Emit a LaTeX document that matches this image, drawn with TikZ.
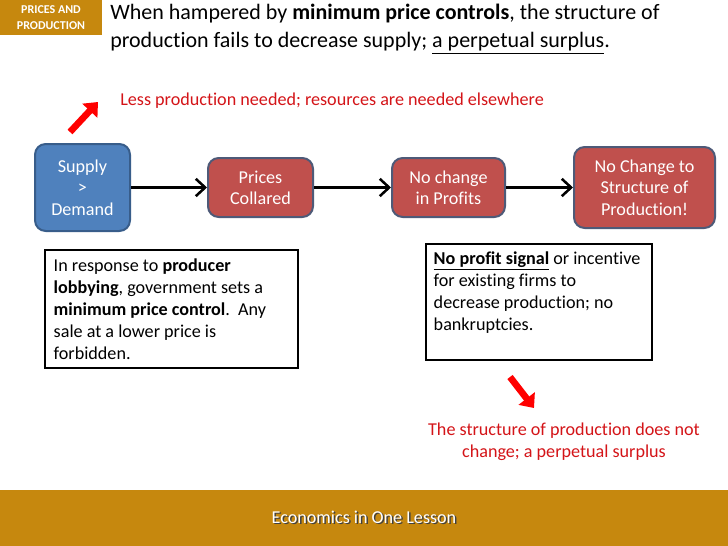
\documentclass[tikz,border=0pt]{standalone}
\usepackage{fontspec}
\setmainfont{Carlito}[Ligatures=NoCommon]
\usetikzlibrary{arrows.meta, positioning, calc}
\definecolor{lessongold}{HTML}{C6880E}
\definecolor{flowblue}{HTML}{4F81BD}
\definecolor{flowblueline}{HTML}{385D8A}
\definecolor{flowred}{HTML}{C0504D}
\definecolor{flowredline}{HTML}{4E5A78}
\definecolor{notered}{HTML}{D41418}
\tikzset{
  flowbox/.style={draw=flowredline, fill=flowred, line width=1.5pt, rounded corners=8pt, text=white, align=center, font=\fontsize{13.6}{16}\selectfont},
  notebox/.style={draw=black, line width=0.8pt, fill=white},
  notetext/.style={anchor=north west, align=left, inner sep=0pt, font=\fontsize{13.6}{16.5}\selectfont},
  flowarrow/.style={line width=1.9pt, -{Straight Barb[length=7pt, width=13pt, line width=1.9pt]}},
  bigred/.style={draw=red, line width=5pt, -{Triangle[length=9pt, width=15pt]}}
}

\begin{document}
\begin{tikzpicture}[x=0.75pt, y=-0.75pt]
  \useasboundingbox (0,0) rectangle (728,546);
  \fill[white] (0,0) rectangle (728,546);
  % header
  \draw[fill=lessongold, draw=none] (0,0) rectangle (102,35) node[midway, text=white, align=center, font=\fontsize{9}{12}\selectfont\bfseries] (badge) {PRICES AND\\PRODUCTION};
  \node[anchor=north west, align=left, inner sep=0pt, font=\fontsize{16.5}{21}\selectfont] (title) at (110,4) {When hampered by \textbf{minimum price controls}, the structure of\\production fails to decrease supply; \underline{a perpetual surplus}.};
  \node[text=notered, font=\fontsize{13.6}{15}\selectfont, anchor=west, inner sep=0pt] (lessnote) at (120,101) {Less production needed; resources are needed elsewhere};
  % flow boxes
  \node[flowbox, draw=flowblueline, fill=flowblue, minimum width=95*0.75pt, minimum height=87*0.75pt] (supply) at (82.5,187.5) {Supply\\>\\Demand};
  \node[flowbox, minimum width=105*0.75pt, minimum height=59*0.75pt] (prices) at (260.5,187.5) {Prices\\Collared};
  \node[flowbox, minimum width=113*0.75pt, minimum height=59*0.75pt] (profits) at (448.5,187.5) {No change\\in Profits};
  \node[flowbox, minimum width=141*0.75pt, minimum height=81*0.75pt] (structure) at (644.5,187.5) {No Change to\\Structure of\\Production!};
  \draw[flowarrow] (supply.east) -- (prices.west);
  \draw[flowarrow] (prices.east) -- (profits.west);
  \draw[flowarrow] (profits.east) -- (structure.west);
  % note boxes
  \node[notebox, minimum width=253*0.75pt, minimum height=118*0.75pt] (lobbybox) at (171.5,309) {};
  \node[notetext] (lobbytext) at ($(lobbybox.north west)+(9,9)$) {In response to \textbf{producer}\\\textbf{lobbying}, government sets a\\\textbf{minimum price control}.\ \ Any\\sale at a lower price is\\forbidden.};
  \node[notebox, minimum width=226*0.75pt, minimum height=116*0.75pt] (signalbox) at (539,302) {};
  \node[notetext] (signaltext) at ($(signalbox.north west)+(8,8)$) {\underline{\textbf{No profit signal}} or incentive\\for existing firms to\\decrease production; no\\bankruptcies.};
  % red arrows
  \coordinate (uptail) at (70,132);
  \coordinate (uphead) at (98,102);
  \draw[bigred] (uptail) -- (uphead);
  \coordinate (downtail) at (510,377);
  \coordinate (downhead) at (534,408);
  \draw[bigred] (downtail) -- (downhead);
  \node[text=notered, align=center, font=\fontsize{13.6}{16.5}\selectfont] (surplusnote) at (564,442) {The structure of production does not\\change; a perpetual surplus};
  % footer
  \fill[lessongold] (0,490) rectangle (728,546);
  \node[text=black!75, font=\fontsize{13.6}{15}\selectfont] (footshadow) at (365.5,518.5) {Economics in One Lesson};
  \node[text=white, font=\fontsize{13.6}{15}\selectfont] (footer) at (364,517) {Economics in One Lesson};
\end{tikzpicture}
\end{document}
